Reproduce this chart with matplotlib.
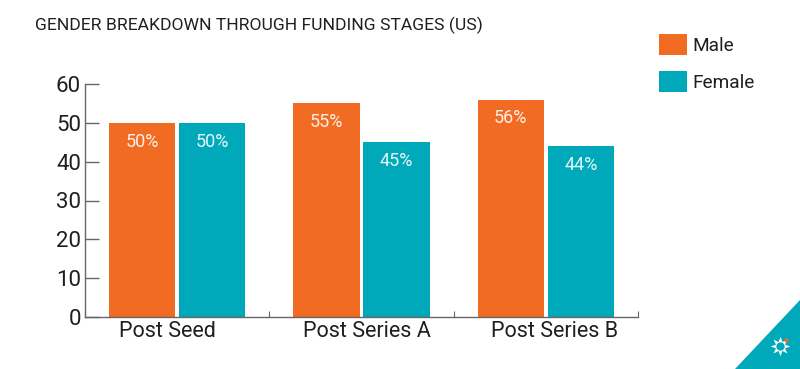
import matplotlib
matplotlib.use("Agg")
import matplotlib.pyplot as plt
import matplotlib.transforms as mtrans
import numpy as np
from matplotlib.patches import Polygon

categories = ["Post Seed", "Post Series A", "Post Series B"]
series_names = ["Male", "Female"]
male = [50, 55, 56]
female = [50, 45, 44]
yticks = [0, 10, 20, 30, 40, 50, 60]
title = "GENDER BREAKDOWN THROUGH FUNDING STAGES (US)"

ORANGE = "#F26B22"
TEAL = "#00A9B9"
TEXT = "#1f1f1f"
AXC = "#666666"

plt.rcParams['font.family'] = ['Roboto', 'DejaVu Sans']

fig = plt.figure(figsize=(8, 3.69), dpi=100)
ax = fig.add_axes([85/800, 1-317/369, (638-85)/800, (317-84)/369])

x = np.arange(len(categories))
w = 0.36
off = 0.19
b1 = ax.bar(x - off, male, w, color=ORANGE, label=series_names[0])
b2 = ax.bar(x + off, female, w, color=TEAL, label=series_names[1])

for bars, vals in ((b1, male), (b2, female)):
    for r, v in zip(bars, vals):
        ax.annotate(f"{v}%", (r.get_x() + r.get_width()/2, v), xytext=(0, -13.5),
                    textcoords="offset points", ha="center", va="center",
                    color="white", alpha=0.9, fontsize=13)

ax.set_xlim(-0.5, len(categories) - 0.5)
ax.set_ylim(0, 60)
ax.set_yticks(yticks)
ax.set_yticklabels([str(t) for t in yticks], fontsize=16, color=TEXT)
ax.tick_params(axis='y', direction='in', length=10, width=1, color=AXC, pad=3)
ax.set_xticks(x)
ax.set_xticklabels(categories, fontsize=15.5, color=TEXT)
ax.tick_params(axis='x', which='major', length=0, pad=3)
# small horizontal nudges of category labels, as in the original
for lbl, dx in zip(ax.get_xticklabels(), [-9.5, 5.5, 9]):
    lbl.set_transform(lbl.get_transform() + mtrans.ScaledTranslation(dx/100, 0, fig.dpi_scale_trans))
ax.set_xticks(np.arange(len(categories) + 1) - 0.5, minor=True)
ax.tick_params(axis='x', which='minor', direction='in', length=4, width=0.8, color=AXC)
for s in ('top', 'right'):
    ax.spines[s].set_visible(False)
for s in ('left', 'bottom'):
    ax.spines[s].set_color(AXC)
    ax.spines[s].set_linewidth(1)

fig.text(35/800, 1-25/369, title, fontsize=12.6, color=TEXT, va="center", ha="left")

leg = fig.legend(handles=[b1, b2], loc="upper left", bbox_to_anchor=(659/800, 1-34/369),
                 frameon=False, fontsize=13.7, handlelength=1.47, handleheight=1.32,
                 handletextpad=0.3, labelspacing=0.85, borderaxespad=0, borderpad=0)
for t in leg.get_texts():
    t.set_color(TEXT)

# corner logo triangle
tri = Polygon([[735/800, 0], [1, 0], [1, 69/369]], closed=True, transform=fig.transFigure,
              facecolor=TEAL, edgecolor="none")
fig.patches.append(tri)
cx, cy = 780/800, 1-346/369
fig.add_artist(plt.Line2D([cx], [cy], marker=(8, 1, 0), markersize=14, color="white",
                          transform=fig.transFigure, markeredgewidth=0))
fig.add_artist(plt.Line2D([cx], [cy], marker="o", markersize=6, color=TEAL,
                          transform=fig.transFigure, markeredgewidth=0))
fig.add_artist(plt.Line2D([cx + 6/800], [cy + 6/369], marker="o", markersize=3, color=ORANGE,
                          transform=fig.transFigure, markeredgewidth=0))

fig.savefig("out.png", dpi=100, facecolor="white")
